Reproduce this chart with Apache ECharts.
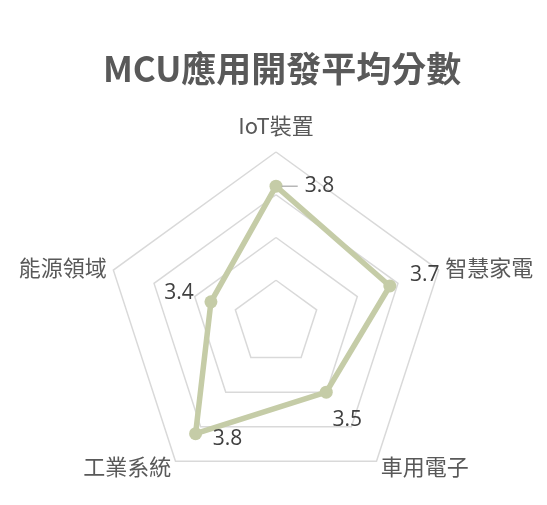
<!DOCTYPE html>
<html>
<head>
<meta charset="utf-8">
<script src="https://cdn.jsdelivr.net/npm/echarts@6/dist/echarts.min.js"></script>
<style>
html,body{margin:0;padding:0;background:#fff;}
#chart{width:547px;height:505px;}
</style>
</head>
<body>
<div id="chart"></div>
<script>
// Data (indicators listed counterclockwise from the top, as ECharts places them)
const titleText = 'MCU應用開發平均分數';
const indicators = ['IoT裝置', '能源領域', '工業系統', '車用電子', '智慧家電'];
const scores = [3.8, 3.4, 3.8, 3.5, 3.7];
const axisMin = 3;
const axisMax = 4;
const splitCount = 4;

// Layout of the value labels (offset from each point, in px)
const labelOffsets = [[32, 0], [-32, -9], [32, 5], [21, 28], [35, -11]];

const FONT = '"Noto Sans CJK TC", "Noto Sans", sans-serif';
const NUMFONT = '"Open Sans", "Noto Sans", sans-serif';
const LINE = '#c5cca7';
const TITLE_SIZE = 35;
const TITLE_CENTER_X = 282;

const ctx = document.createElement('canvas').getContext('2d');
ctx.font = 'bold ' + TITLE_SIZE + 'px ' + FONT;
const titleWidth = ctx.measureText(titleText).width;

const chart = echarts.init(document.getElementById('chart'), null, {renderer: 'canvas'});

const labelItems = indicators.map((name, i) => ({
  value: scores,
  symbol: 'circle',
  symbolSize: 1,
  itemStyle: {color: 'rgba(0,0,0,0)'},
  lineStyle: {opacity: 0, width: 0},
  label: {
    show: true,
    position: 'inside',
    offset: labelOffsets[i],
    fontFamily: NUMFONT,
    fontSize: 21,
    color: '#404040',
    formatter: p => {
      if (p.dimensionIndex !== i) return '';
      const v = scores[i].toFixed(1);
      return i === 0 ? '{l|}{v|' + v + '}' : v;
    },
    rich: {
      l: {width: 16, height: 1.2, backgroundColor: '#a6a6a6'},
      v: {fontFamily: NUMFONT, fontSize: 21, color: '#404040', padding: [0, 0, 0, 7]}
    }
  }
}));

chart.setOption({
  backgroundColor: '#fff',
  animation: false,
  title: {
    text: titleText,
    left: Math.round(TITLE_CENTER_X - titleWidth / 2),
    top: 51,
    padding: 0,
    textStyle: {fontFamily: FONT, fontSize: TITLE_SIZE, fontWeight: 'bold', color: '#595959'}
  },
  radar: {
    center: [276, 323],
    radius: 171,
    startAngle: 90,
    shape: 'polygon',
    splitNumber: splitCount,
    axisNameGap: 7,
    indicator: indicators.map(n => ({name: n, min: axisMin, max: axisMax})),
    axisName: {
      color: '#595959',
      fontFamily: FONT,
      fontSize: 22,
      formatter: (v, ind) => v === indicators[0] ? '{t|' + v + '}' : v,
      rich: {t: {fontFamily: FONT, fontSize: 22, color: '#595959', padding: [0, 0, 8, 0]}}
    },
    axisLine: {show: false},
    axisTick: {show: false},
    axisLabel: {show: false},
    splitArea: {show: false},
    splitLine: {lineStyle: {color: '#d9d9d9', width: 1.5}}
  },
  series: [{
    type: 'radar',
    silent: true,
    emphasis: {disabled: true},
    data: [{
      value: scores,
      symbol: 'circle',
      symbolSize: 13,
      itemStyle: {color: LINE},
      lineStyle: {color: LINE, width: 5.5},
      label: {show: false}
    }].concat(labelItems)
  }]
});
</script>
</body>
</html>
